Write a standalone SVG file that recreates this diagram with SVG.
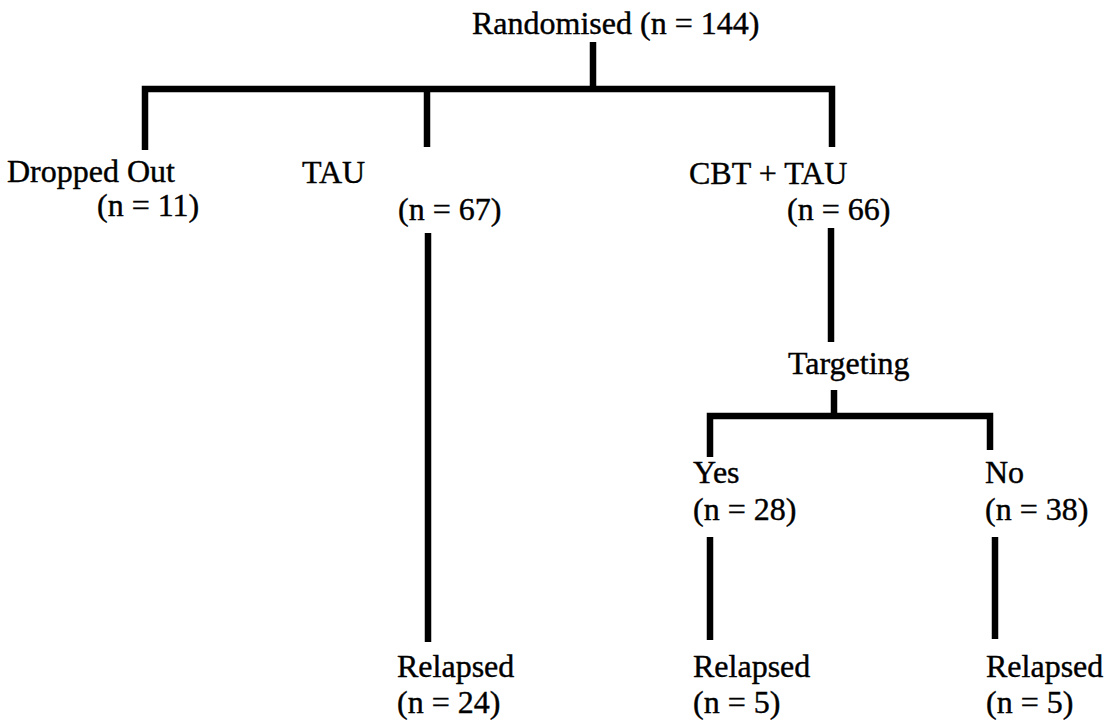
<svg xmlns="http://www.w3.org/2000/svg" width="1108" height="723" viewBox="0 0 1108 723">
<style>
text{font-family:"Liberation Serif","Times New Roman",serif;font-size:32px;fill:#000;stroke:#000;stroke-width:0.4}
.c{fill:none;stroke:#000;stroke-width:6.5;stroke-linejoin:miter;stroke-linecap:butt}
</style>
<rect width="1108" height="723" fill="#fff"/>
<g id="connectors">
<path class="c" d="M593,42V89"/>
<path class="c" d="M145,150V89H832V147"/>
<path class="c" d="M427,89V147"/>
<path class="c" d="M428,233V642"/>
<path class="c" d="M831,228V342"/>
<path class="c" d="M834,390V416"/>
<path class="c" d="M710,457V416H990V450"/>
<path class="c" d="M710,537V640"/>
<path class="c" d="M995,537V639"/>
</g>
<g id="randomised"><text x="472" y="34">Randomised (n = 144)</text></g>
<g id="dropped"><text x="7" y="182">Dropped Out</text><text x="97" y="216">(n = 11)</text></g>
<g id="tau"><text x="302" y="183">TAU</text><text x="398" y="220">(n = 67)</text></g>
<g id="cbt"><text x="689" y="184">CBT + TAU</text><text x="787" y="220">(n = 66)</text></g>
<g id="targeting"><text x="788" y="374">Targeting</text></g>
<g id="yes"><text x="693" y="483">Yes</text><text x="693" y="520">(n = 28)</text></g>
<g id="no"><text x="985" y="483">No</text><text x="985" y="520">(n = 38)</text></g>
<g id="relapsed-tau"><text x="397" y="677">Relapsed</text><text x="397" y="713">(n = 24)</text></g>
<g id="relapsed-yes"><text x="693" y="677">Relapsed</text><text x="693" y="713">(n = 5)</text></g>
<g id="relapsed-no"><text x="986" y="677">Relapsed</text><text x="986" y="713">(n = 5)</text></g>
</svg>
